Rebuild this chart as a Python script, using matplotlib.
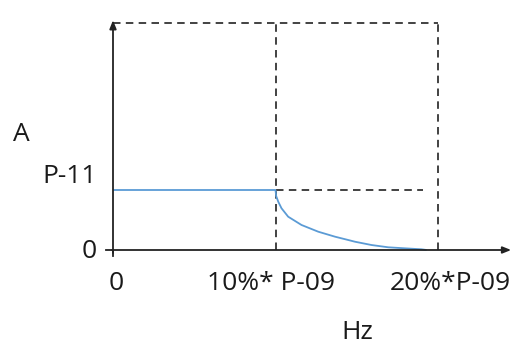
import matplotlib
matplotlib.use("Agg")
import matplotlib.pyplot as plt

# --- data (x in % of P-09, y in units of P-11) ---
x_marks = [0, 10, 20]
x_labels = ["0", "10%* P-09", "20%*P-09"]
y_level = 1.0          # P-11
y_top = 3.78           # upper dashed bound
curve_x = [0, 10, 10.04, 10.17, 10.37, 10.78, 11.60, 12.63, 13.66, 14.47,
           14.89, 15.91, 16.94, 17.96, 18.97, 19.3]
curve_y = [1.0, 1.0, 0.90, 0.805, 0.695, 0.555, 0.417, 0.305, 0.222, 0.167,
           0.138, 0.083, 0.045, 0.028, 0.012, 0.0]

plt.rcParams['font.family'] = ['Open Sans', 'DejaVu Sans']

fig = plt.figure(figsize=(5.17, 3.45), dpi=100)
ax = fig.add_axes([0, 0, 1, 1])
ax.set_xlim(-113 / 16.25, (517 - 113) / 16.25)
ax.set_ylim(-95 / 60, 250 / 60)
ax.axis('off')

blue = '#5B9BD5'
dash_kw = dict(color='#222222', lw=1.2, ls=(0, (4.5, 3.2)))

# dashed guides
ax.plot([x_marks[0], x_marks[2]], [y_top, y_top], **dash_kw)
ax.plot([x_marks[1], x_marks[1]], [0, y_top], **dash_kw)
ax.plot([x_marks[2], x_marks[2]], [0, y_top], **dash_kw)
ax.plot([x_marks[1], x_marks[2] - 0.9], [y_level, y_level], **dash_kw)

# curve
ax.plot(curve_x, curve_y, color=blue, lw=1.3, solid_capstyle='butt',
        solid_joinstyle='round', zorder=3)

# axes with arrows
ax.annotate('', xy=(24.5, 0), xytext=(-0.05, 0),
            arrowprops=dict(arrowstyle='-|>,head_length=0.5,head_width=0.2',
                            color='#222222', lw=1.3, shrinkA=0, shrinkB=0))
ax.annotate('', xy=(0, 3.83), xytext=(0, -0.05),
            arrowprops=dict(arrowstyle='-|>,head_length=0.5,head_width=0.2',
                            color='#222222', lw=1.3, shrinkA=0, shrinkB=0))
# small origin ticks
ax.plot([-0.42, 0], [0, 0], color='#222222', lw=1.3)
ax.plot([0, 0], [0, -0.1], color='#222222', lw=1.3)

# labels
fs = 19
tc = '#1a1a1a'
ax.text(-5.66, 1.92, 'A', fontsize=fs, color=tc, ha='center', va='center')
ax.text(-0.98, 1.22, 'P-11', fontsize=fs, color=tc, ha='right', va='center')
ax.text(-0.98, -0.03, '0', fontsize=fs, color=tc, ha='right', va='center')
label_x = [0.18, 9.72, 20.74]
for xv, lab in zip(label_x, x_labels):
    ax.text(xv, -0.55, lab, fontsize=fs, color=tc, ha='center', va='center')
ax.text(15.0, -1.37, 'Hz', fontsize=fs, color=tc, ha='center', va='center')

fig.savefig('out.png', dpi=100)
